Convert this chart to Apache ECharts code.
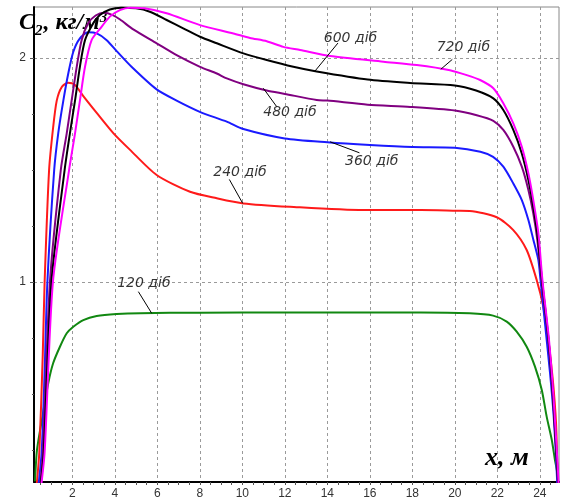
<!DOCTYPE html>
<html>
<head>
<meta charset="utf-8">
<script src="https://cdn.jsdelivr.net/npm/echarts@6/dist/echarts.min.js"></script>
<style>
  html, body { margin: 0; padding: 0; background: #fff; }
  #chart { width: 565px; height: 504px; }
</style>
</head>
<body>
<div id="chart"></div>
<script>
// Concentration profiles C2(x) after different exposure times
const days120 = [[0.25,0.11],[0.34,0.25],[0.6,0.4],[0.87,0.548],[1.1,0.637],[1.42,0.711],[1.74,0.771],[2.05,0.8],[2.52,0.83],[3.15,0.848],[4.09,0.857],[5.2,0.861],[8,0.863],[12,0.864],[16,0.864],[18.4,0.864],[20.7,0.86],[21.8,0.85],[22.44,0.823],[22.91,0.778],[23.38,0.711],[23.77,0.622],[24.09,0.518],[24.32,0.399],[24.56,0.295],[24.71,0.205],[24.82,0.147],[24.87,0.06]];
const days240 = [[0.33,0.1],[0.45,0.24],[0.61,0.67],[0.7,1.0],[0.91,1.5],[1.1,1.69],[1.27,1.81],[1.5,1.87],[1.8,1.89],[2.13,1.88],[2.52,1.83],[3.15,1.755],[3.93,1.665],[4.72,1.59],[5.97,1.478],[7.54,1.403],[8.8,1.374],[10.05,1.351],[12.24,1.336],[15.7,1.321],[18.4,1.321],[20.1,1.318],[20.7,1.317],[21.97,1.289],[22.75,1.232],[23.38,1.143],[23.85,1.009],[24.16,0.89],[24.4,0.741],[24.61,0.5625],[24.76,0.37],[24.82,0.175],[24.86,0.05]];
const days360 = [[0.42,0.1],[0.56,0.24],[0.7,0.6],[0.83,1.0],[1.15,1.5],[1.34,1.664],[1.58,1.81],[1.81,1.93],[2.05,2.028],[2.36,2.088],[2.75,2.115],[3.15,2.11],[3.62,2.08],[4.1,2.03],[4.8,1.96],[5.97,1.86],[6.91,1.81],[8.0,1.76],[9.27,1.716],[10.05,1.683],[12.0,1.641],[14.0,1.624],[16.0,1.612],[18.0,1.603],[20.0,1.6],[21.2,1.582],[21.8,1.559],[22.28,1.515],[22.75,1.44],[23.15,1.366],[23.46,1.277],[23.69,1.19],[23.93,1.098],[24.03,1.009],[24.24,0.816],[24.48,0.592],[24.64,0.414],[24.76,0.22],[24.84,0.05]];
const days480 = [[0.5,0.1],[0.62,0.24],[0.95,1.0],[1.46,1.5],[1.74,1.664],[1.97,1.81],[2.21,1.961],[2.44,2.08],[2.75,2.155],[3.1,2.19],[3.5,2.202],[3.9,2.192],[4.25,2.172],[4.87,2.128],[5.97,2.066],[6.91,2.013],[8.01,1.961],[8.8,1.931],[9.27,1.909],[10.05,1.883],[11.15,1.855],[12.0,1.84],[13.5,1.8125],[14.0,1.81],[15.9,1.792],[17.9,1.782],[20.0,1.766],[21.03,1.745],[21.81,1.72],[22.28,1.679],[22.75,1.604],[23.15,1.515],[23.46,1.411],[23.69,1.307],[23.88,1.1875],[24.08,1.009],[24.4,0.741],[24.62,0.473],[24.82,0.16],[24.88,0.05]];
const days600 = [[0.52,0.1],[0.66,0.24],[1.02,1.0],[1.64,1.5],[1.89,1.664],[2.13,1.81],[2.36,1.961],[2.6,2.08],[2.99,2.155],[3.3,2.192],[3.77,2.217],[4.3,2.225],[5.0,2.222],[5.65,2.207],[6.44,2.17],[7.22,2.133],[8.01,2.095],[8.8,2.066],[10.05,2.021],[11.15,1.991],[12.4,1.961],[13.5,1.94],[15.9,1.904],[17.9,1.889],[20.0,1.878],[21.0,1.855],[21.81,1.82],[22.28,1.768],[22.75,1.679],[23.15,1.574],[23.46,1.455],[23.69,1.336],[23.88,1.217],[24.1,1.009],[24.41,0.741],[24.63,0.473],[24.83,0.16],[24.89,0.05]];
const days720 = [[0.55,0.1],[0.7,0.24],[1.09,1.0],[1.85,1.5],[2.13,1.664],[2.36,1.81],[2.6,1.961],[2.91,2.08],[3.3,2.13],[3.77,2.185],[4.24,2.214],[4.72,2.225],[5.4,2.222],[6.44,2.2],[8.01,2.147],[9.58,2.11],[10.36,2.09],[11.15,2.075],[11.93,2.05],[12.72,2.036],[14.13,2.009],[16.64,1.984],[18.21,1.969],[19.77,1.946],[20.56,1.924],[21.19,1.902],[21.81,1.865],[22.28,1.798],[22.75,1.708],[23.15,1.604],[23.46,1.485],[23.69,1.366],[23.93,1.217],[24.12,1.009],[24.43,0.741],[24.65,0.473],[24.85,0.16],[24.9,0.05]];

const seriesNames  = ['120 діб', '240 діб', '360 діб', '480 діб', '600 діб', '720 діб'];
const seriesData   = [days120, days240, days360, days480, days600, days720];
const seriesColors = ['#118811', '#ff1a1a', '#1a1aff', '#800080', '#000000', '#ff00ff'];

// Curve captions: text position and leader line (from caption to curve), in data units
const captionAt   = [[5.37,0.993],[9.89,1.491],[16.09,1.537],[12.24,1.757],[15.09,2.088],[20.4,2.047]];
const leaderFrom  = [[5.11,0.957],[9.39,1.458],[15.51,1.577],[11.62,1.783],[14.5,2.067],[19.88,1.994]];
const leaderTo    = [[5.74,0.860],[10.02,1.351],[14.13,1.626],[10.99,1.865],[13.42,1.942],[19.34,1.95]];

const xTickLabels = [2, 4, 6, 8, 10, 12, 14, 16, 18, 20, 22, 24];
const yTickLabels = [1, 2];
const xRange = [0.2, 24.9];
const yRange = [0.107, 2.228];

const xMinorTicks = [];
for (let v = 0.5; v < xRange[1]; v += 0.5) xMinorTicks.push(v);
const yMinorTicks = [];
for (let v = 0.25; v < yRange[1]; v += 0.25) yMinorTicks.push(v);

const chart = echarts.init(document.getElementById('chart'), null, { renderer: 'canvas' });

const tickLabelStyle = { color: '#333', fontSize: 12, fontFamily: 'Liberation Sans, Arial, sans-serif' };
const gridLine = { show: true, lineStyle: { color: '#9a9a9a', width: 1, type: [3, 3] } };
const serifBold = { fontFamily: 'Liberation Serif, Times New Roman, serif', fontStyle: 'italic', fontWeight: 'bold', color: '#000' };

const lineSeries = seriesData.map((d, i) => ({
  name: seriesNames[i],
  type: 'line',
  data: d,
  xAxisIndex: 0,
  yAxisIndex: 0,
  showSymbol: false,
  smooth: 0.25,
  clip: true,
  lineStyle: { color: seriesColors[i], width: 2 },
  itemStyle: { color: seriesColors[i] },
  z: 3 + i
}));

const captionSeries = {
  type: 'scatter',
  xAxisIndex: 0,
  yAxisIndex: 0,
  symbolSize: 1,
  itemStyle: { color: 'rgba(0,0,0,0)' },
  data: captionAt.map((p, i) => [p[0], p[1], seriesNames[i]]),
  label: {
    show: true,
    position: 'inside',
    formatter: p => p.value[2],
    color: '#000',
    fontSize: 14,
    fontStyle: 'italic',
    fontFamily: 'DejaVu Sans, Verdana, sans-serif'
  },
  z: 20
};

const leaderSeries = {
  type: 'lines',
  coordinateSystem: 'cartesian2d',
  xAxisIndex: 0,
  yAxisIndex: 0,
  polyline: false,
  symbol: 'none',
  lineStyle: { color: '#000', width: 1, opacity: 1 },
  data: leaderFrom.map((p, i) => ({ coords: [p, leaderTo[i]] })),
  z: 19
};

chart.setOption({
  animation: false,
  backgroundColor: '#fff',
  title: [{
    text: '{c|C}{s|2}{c|, кг/м}{p|3}',
    left: 14,
    top: 6,
    textStyle: {
      rich: {
        c: Object.assign({ fontSize: 24, lineHeight: 24, verticalAlign: 'top' }, serifBold),
        s: Object.assign({ fontSize: 15, lineHeight: 15, padding: [13, 1, 0, 0], verticalAlign: 'top' }, serifBold),
        p: Object.assign({ fontSize: 15, lineHeight: 15, verticalAlign: 'top' }, serifBold)
      }
    }
  }, {
    text: 'x, м',
    left: 480,
    top: 440,
    textStyle: Object.assign({ fontSize: 26 }, serifBold)
  }],
  grid: {
    left: 34, right: 6, top: 7, bottom: 22,
    show: true, borderColor: '#888', borderWidth: 1, backgroundColor: 'transparent'
  },
  xAxis: [{
    type: 'value',
    min: xRange[0], max: xRange[1],
    axisLine: { show: true, onZero: false, lineStyle: { color: '#000', width: 2 } },
    axisTick: { show: true, customValues: xTickLabels, length: 3, lineStyle: { color: '#555' } },
    axisLabel: { show: true, customValues: xTickLabels, margin: 6, ...tickLabelStyle },
    splitLine: gridLine
  }, {
    type: 'value',
    min: xRange[0], max: xRange[1],
    position: 'bottom',
    axisLine: { show: false },
    axisTick: { show: true, customValues: xMinorTicks, length: 3, lineStyle: { color: '#555' } },
    axisLabel: { show: false },
    splitLine: { show: false }
  }],
  yAxis: [{
    type: 'value',
    min: yRange[0], max: yRange[1],
    axisLine: { show: true, onZero: false, lineStyle: { color: '#000', width: 2 } },
    axisTick: { show: true, customValues: yTickLabels, length: 4, lineStyle: { color: '#555' } },
    axisLabel: { show: true, customValues: yTickLabels, margin: 8, ...tickLabelStyle },
    splitLine: gridLine
  }, {
    type: 'value',
    min: yRange[0], max: yRange[1],
    position: 'left',
    axisLine: { show: false },
    axisTick: { show: true, customValues: yMinorTicks, length: 2, lineStyle: { color: '#555' } },
    axisLabel: { show: false },
    splitLine: { show: false }
  }],
  series: [...lineSeries, leaderSeries, captionSeries]
});
</script>
</body>
</html>
